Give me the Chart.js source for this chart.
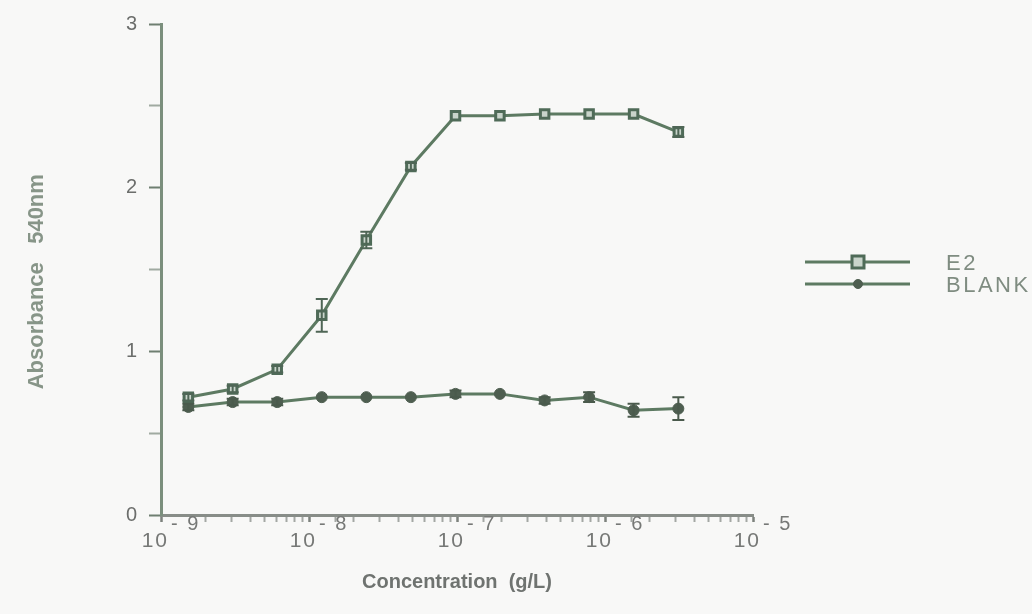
<!DOCTYPE html>
<html>
<head>
<meta charset="utf-8">
<script src="https://cdn.jsdelivr.net/npm/chart.js@4"></script>
<style>
  html, body { margin: 0; padding: 0; background: #f8f8f7; }
  #wrap { width: 1032px; height: 614px; }
</style>
</head>
<body>
<div id="wrap"><canvas id="chart" width="1032" height="614"></canvas></div>
<script>
// doubling dilutions of E2 (g/L)
const concentrations = [1.53e-9, 3.05e-9, 6.1e-9, 1.22e-8, 2.44e-8, 4.88e-8, 9.77e-8, 1.95e-7, 3.91e-7, 7.81e-7, 1.56e-6, 3.13e-6];
const e2Values    = [0.72, 0.77, 0.89, 1.22, 1.68, 2.13, 2.44, 2.44, 2.45, 2.45, 2.45, 2.34];
const e2Errors    = [0.02, 0.02, 0.02, 0.10, 0.05, 0.02, 0.01, 0.01, 0.01, 0.01, 0.01, 0.03];
const blankValues = [0.66, 0.69, 0.69, 0.72, 0.72, 0.72, 0.74, 0.74, 0.70, 0.72, 0.64, 0.65];
const blankErrors = [0.02, 0.02, 0.02, 0.01, 0.01, 0.01, 0.02, 0.01, 0.02, 0.03, 0.04, 0.07];
const seriesNames = ['E2', 'BLANK'];
const yTickLabels = ['0', '1', '2', '3'];

const FONT = "'Liberation Sans', Arial, sans-serif";
const LINE = '#5d7a62';
const AXIS = '#7b8f7d';

function decade(v) {
    const e = Math.round(Math.log10(v));
    return Math.abs(Math.log10(v) - e) < 1e-6 ? e : null;
}

// +/- error bars, placed through the chart's own scales
const errorBars = {
    id: 'errorBars',
    afterDatasetsDraw(chart) {
        const ctx = chart.ctx;
        const xs = chart.scales.x, ys = chart.scales.y;
        chart.data.datasets.forEach(ds => {
            if (!ds.errors) return;
            ctx.save();
            ctx.strokeStyle = ds.errColor;
            ctx.lineWidth = 2;
            ds.data.forEach((p, i) => {
                const err = ds.errors[i];
                if (!err || err < 0.015) return;
                const x = xs.getPixelForValue(p.x);
                const y1 = ys.getPixelForValue(p.y - err);
                const y2 = ys.getPixelForValue(p.y + err);
                ctx.beginPath();
                ctx.moveTo(x, y1); ctx.lineTo(x, y2);
                ctx.moveTo(x - 6, y1); ctx.lineTo(x + 6, y1);
                ctx.moveTo(x - 6, y2); ctx.lineTo(x + 6, y2);
                ctx.stroke();
            });
            ctx.restore();
        });
    }
};

// x tick labels as 10 with a raised exponent, at the log scale's decade ticks
const decadeLabels = {
    id: 'decadeLabels',
    afterDraw(chart) {
        const ctx = chart.ctx;
        const xs = chart.scales.x;
        ctx.save();
        ctx.fillStyle = '#767876';
        ctx.textBaseline = 'alphabetic';
        xs.ticks.forEach(t => {
            const e = decade(t.value);
            if (e === null) return;
            const x = xs.getPixelForValue(t.value);
            ctx.letterSpacing = '2px';
            ctx.font = '21px ' + FONT;
            const base = '10';
            const wb = ctx.measureText(base).width;
            ctx.font = '20px ' + FONT;
            const exp = '- ' + Math.abs(e);
            const we = ctx.measureText(exp).width;
            const left = x + 10 - (wb + we + 2) / 2;
            ctx.font = '21px ' + FONT;
            ctx.fillText(base, left, 547);
            ctx.font = '20px ' + FONT;
            ctx.fillText(exp, left + wb + 2, 530);
        });
        ctx.restore();
    }
};

// legend on the right: line with the marker in the middle, name beside it
const sideLegend = {
    id: 'sideLegend',
    afterDraw(chart) {
        const ctx = chart.ctx;
        const rows = [262, 284];
        chart.data.datasets.forEach((ds, i) => {
            const y = rows[i];
            ctx.save();
            ctx.strokeStyle = ds.borderColor;
            ctx.lineWidth = 3;
            ctx.beginPath();
            ctx.moveTo(805, y); ctx.lineTo(910, y);
            ctx.stroke();
            ctx.fillStyle = ds.pointBackgroundColor;
            ctx.strokeStyle = ds.pointBorderColor;
            ctx.lineWidth = ds.pointBorderWidth;
            ctx.beginPath();
            const r = ds.pointRadius;
            if (ds.pointStyle === 'rect') ctx.rect(858 - r, y - r, r * 2, r * 2);
            else ctx.arc(858, y, r - 1, 0, Math.PI * 2);
            ctx.fill(); ctx.stroke();
            ctx.fillStyle = '#7f8c81';
            ctx.font = '22px ' + FONT;
            ctx.letterSpacing = '2.5px';
            ctx.textBaseline = 'middle';
            ctx.fillText(ds.label, 946, y + 2);
            ctx.restore();
        });
    }
};

new Chart(document.getElementById('chart'), {
    type: 'line',
    data: {
        datasets: [
            {
                label: seriesNames[0],
                data: concentrations.map((c, i) => ({ x: c, y: e2Values[i] })),
                errors: e2Errors,
                errColor: '#4f6656',
                borderColor: LINE,
                borderWidth: 3,
                pointStyle: 'rect',
                pointRadius: 6,
                pointBorderWidth: 3,
                pointBackgroundColor: '#c9d4cb',
                pointBorderColor: '#4f6b58',
                tension: 0
            },
            {
                label: seriesNames[1],
                data: concentrations.map((c, i) => ({ x: c, y: blankValues[i] })),
                errors: blankErrors,
                errColor: '#4a5a4c',
                borderColor: LINE,
                borderWidth: 3,
                pointStyle: 'circle',
                pointRadius: 5.5,
                pointBorderWidth: 1,
                pointBackgroundColor: '#4e5e50',
                pointBorderColor: '#4e5e50',
                tension: 0
            }
        ]
    },
    options: {
        responsive: false,
        animation: false,
        layout: { padding: { left: 0, right: 279, top: 22, bottom: 0 } },
        plugins: { legend: { display: false }, tooltip: { enabled: false } },
        scales: {
            x: {
                type: 'logarithmic',
                min: 1e-9,
                max: 1e-5,
                afterFit(scale) { scale.height = 99; },
                border: { color: '#888d88', width: 3 },
                grid: {
                    drawOnChartArea: false,
                    drawTicks: true,
                    tickLength: 7,
                    tickColor: c => (c.tick && decade(c.tick.value) !== null) ? '#7d827d' : '#a4a8a4',
                    tickWidth: c => (c.tick && decade(c.tick.value) !== null) ? 2.5 : 2
                },
                ticks: {
                    autoSkip: false,
                    maxRotation: 0,
                    font: { family: FONT, size: 20 },
                    callback: () => ''
                },
                title: {
                    display: true,
                    text: 'Concentration  (g/L)',
                    color: '#6f7370',
                    font: { family: FONT, size: 20, weight: 'bold' },
                    padding: { top: 0, bottom: 20 }
                }
            },
            y: {
                min: 0,
                max: 3,
                afterFit(scale) { scale.width = 161; },
                border: { color: AXIS, width: 3 },
                grid: {
                    drawOnChartArea: false,
                    drawTicks: true,
                    tickLength: 12,
                    tickColor: c => (c.tick && Number.isInteger(c.tick.value)) ? '#6f7f71' : '#a0aaa1',
                    tickWidth: 2
                },
                ticks: {
                    stepSize: 0.5,
                    color: '#6c6e6c',
                    font: { family: FONT, size: 20 },
                    padding: 12,
                    callback: v => Number.isInteger(v) ? yTickLabels[v] : ''
                },
                title: {
                    display: true,
                    text: 'Absorbance   540nm    ',
                    color: '#879588',
                    font: { family: FONT, size: 22, weight: 'bold' },
                    padding: { top: 24, bottom: 0 }
                }
            }
        }
    },
    plugins: [errorBars, decadeLabels, sideLegend]
});
</script>
</body>
</html>
